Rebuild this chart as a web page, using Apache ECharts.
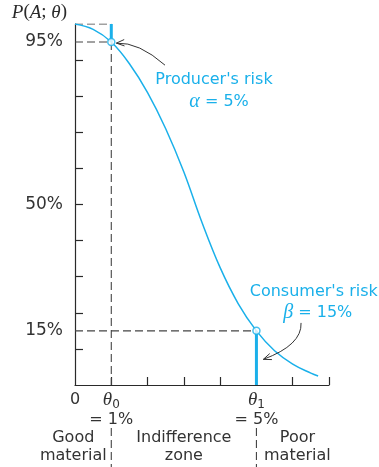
<!DOCTYPE html>
<html>
<head>
<meta charset="utf-8">
<script src="https://cdn.jsdelivr.net/npm/echarts@6/dist/echarts.min.js"></script>
<style>
html,body{margin:0;padding:0;background:#fff;}
#c{width:379px;height:467px;}
</style>
</head>
<body>
<div id="c"></div>
<script>
// ---- data ----
const ocX = [0, 0.5, 1, 1.5, 2, 2.5, 3, 3.5, 4, 4.5, 5, 5.5, 6, 6.5, 6.7];
const ocY = [100, 98.5, 95, 89, 81, 71, 59, 45, 32.5, 22.5, 15, 9.5, 5.8, 3.3, 2.5];
const theta0 = 1;      // %
const theta1 = 5;      // %
const alpha = 5;       // %
const beta = 15;       // %
const yTickValues = [10, 20, 30, 40, 50, 60, 70, 80, 90];
const yLabelValues = [15, 50, 95];
const xTickValues = [1, 2, 3, 4, 5, 6, 7];
const xLabelValues = [0, theta0, theta1];
const zoneLabels = ['Good\nmaterial', 'Indifference\nzone', 'Poor\nmaterial'];
// annotation anchors in data units: [start, control, end]
const producerArrow = [[2.48, 88.6], [1.76, 95.0], [1.14, 94.7]];
const consumerArrow = [[6.23, 17.2], [6.26, 11.1], [5.19, 7.1]];

const CYAN = '#1ab0ea';
const INK = '#2a2a2a';
const SANS = '"DejaVu Sans", sans-serif';
const SERIF = '"Liberation Serif", "Times New Roman", serif';

const chart = echarts.init(document.getElementById('c'), null, {renderer: 'canvas'});

const pA = 100 - alpha;
const dash = {color: '#444', width: 1.1, type: [8, 4]};

const guide = (data, style, z) => ({
  type: 'line', data, symbol: 'none', lineStyle: style, z: z || 2,
  silent: true, animation: false
});

const option = {
  animation: false,
  grid: {left: 75, right: 50, top: 24, bottom: 82},
  xAxis: {
    type: 'value', min: 0, max: 7, interval: 1,
    axisLine: {lineStyle: {color: INK, width: 1.2}},
    axisTick: {inside: true, length: 8, customValues: xTickValues, lineStyle: {color: INK, width: 1.2}},
    splitLine: {show: false},
    axisLabel: {
      customValues: xLabelValues,
      margin: 5,
      color: '#333',
      fontFamily: SANS,
      fontSize: 16,
      formatter: function (v) {
        if (v === 0) return '{n|0}';
        const sub = v === theta0 ? '0' : '1';
        return '{t|θ}{s|' + sub + '}\n{n|= ' + v + '%}';
      },
      rich: {
        n: {fontFamily: SANS, fontSize: 16, color: '#333', lineHeight: 20},
        t: {fontFamily: SERIF, fontStyle: 'italic', fontSize: 19, color: '#333', lineHeight: 20},
        s: {fontFamily: SANS, fontSize: 12, color: '#333', lineHeight: 20, padding: [10, 0, 0, 0]}
      }
    }
  },
  yAxis: {
    type: 'value', min: 0, max: 100, interval: 10,
    name: '{i|P}({i|A}; {i|θ})',
    nameLocation: 'end',
    nameGap: 2,
    nameTextStyle: {
      align: 'right', verticalAlign: 'bottom', padding: [0, 8, 0, 0],
      fontFamily: SERIF, fontSize: 19, color: INK,
      rich: {i: {fontFamily: SERIF, fontStyle: 'italic', fontSize: 19, color: INK}}
    },
    axisLine: {show: true, lineStyle: {color: INK, width: 1.2}},
    axisTick: {show: true, inside: true, length: 8, customValues: yTickValues, lineStyle: {color: INK, width: 1.2}},
    splitLine: {show: false},
    axisLabel: {
      customValues: yLabelValues,
      margin: 12,
      color: '#333',
      fontFamily: SANS,
      fontSize: 17,
      formatter: v => v + '%'
    }
  },
  series: [
    guide([[0, 100], [theta0, 100]], dash),
    guide([[0, pA], [theta0, pA]], dash),
    guide([[theta0, pA], [theta0, 0]], dash),
    guide([[0, beta], [theta1, beta]], dash),
    guide([[theta0, pA], [theta0, 100]], {color: CYAN, width: 3}, 4),
    guide([[theta1, 0], [theta1, beta]], {color: CYAN, width: 3}, 4),
    {
      type: 'line', name: 'OC curve',
      data: ocX.map((x, i) => [x, ocY[i]]),
      smooth: 0.4, symbol: 'none',
      lineStyle: {color: CYAN, width: 1.5}, z: 5, silent: true
    },
    {
      type: 'scatter', data: [[theta0, pA], [theta1, beta]],
      symbol: 'circle', symbolSize: 7, z: 6, silent: true,
      itemStyle: {color: '#fff', borderColor: CYAN, borderWidth: 1.5}
    }
  ]
};
chart.setOption(option);

const px = (x, y) => chart.convertToPixel({gridIndex: 0}, [x, y]);
const o = px(0, 0);
const p0 = px(theta0, 0);
const p1 = px(theta1, 0);

const txt = (pos, text, extra) => Object.assign({
  type: 'text', x: pos[0], y: pos[1], silent: true,
  style: Object.assign({
    text, fill: CYAN, fontFamily: SANS, fontSize: 16,
    align: 'center', verticalAlign: 'middle'
  }, extra || {})
});

function arrow(pts) {
  const a = px(pts[0][0], pts[0][1]);
  const c = px(pts[1][0], pts[1][1]);
  const b = px(pts[2][0], pts[2][1]);
  const dx = b[0] - c[0], dy = b[1] - c[1];
  const L = Math.hypot(dx, dy);
  const ux = dx / L, uy = dy / L;
  const len = 8, w = 3.2;
  const h1 = [b[0] - ux * len - uy * w, b[1] - uy * len + ux * w];
  const h2 = [b[0] - ux * len + uy * w, b[1] - uy * len - ux * w];
  return [
    {type: 'bezierCurve', silent: true, z: 10,
     shape: {x1: a[0], y1: a[1], cpx1: c[0], cpy1: c[1], x2: b[0], y2: b[1]},
     style: {stroke: '#333', lineWidth: 1, fill: null}},
    {type: 'polyline', silent: true, z: 10,
     shape: {points: [h1, b, h2]},
     style: {stroke: '#333', lineWidth: 1, fill: null}}
  ];
}

const pr = px(3.83, 84.5);
const al = px(3.97, 78.5);
const cr = px(6.58, 25.8);
const be = px(6.69, 20.0);

const zoneY = o[1] + 62;
const greek = {g: {fontFamily: SERIF, fontStyle: 'italic', fontSize: 20, fill: CYAN}};
const graphics = [
  txt(pr, "Producer's risk"),
  txt(al, '{g|α} = ' + alpha + '%', {rich: greek}),
  txt(cr, "Consumer's risk"),
  txt(be, '{g|β} = ' + beta + '%', {rich: greek}),
  ...arrow(producerArrow),
  ...arrow(consumerArrow),
  txt([p0[0] - 38, zoneY], zoneLabels[0], {fill: '#333', lineHeight: 18}),
  txt([(p0[0] + p1[0]) / 2, zoneY], zoneLabels[1], {fill: '#333', lineHeight: 18}),
  txt([p1[0] + 41, zoneY], zoneLabels[2], {fill: '#333', lineHeight: 18}),
  {type: 'line', silent: true, shape: {x1: p0[0], y1: o[1] + 43, x2: p0[0], y2: 467},
   style: {stroke: '#444', lineWidth: 1.1, lineDash: [8, 4]}},
  {type: 'line', silent: true, shape: {x1: p1[0], y1: o[1] + 43, x2: p1[0], y2: 467},
   style: {stroke: '#444', lineWidth: 1.1, lineDash: [8, 4]}}
];
chart.setOption({graphic: graphics});
</script>
</body>
</html>
